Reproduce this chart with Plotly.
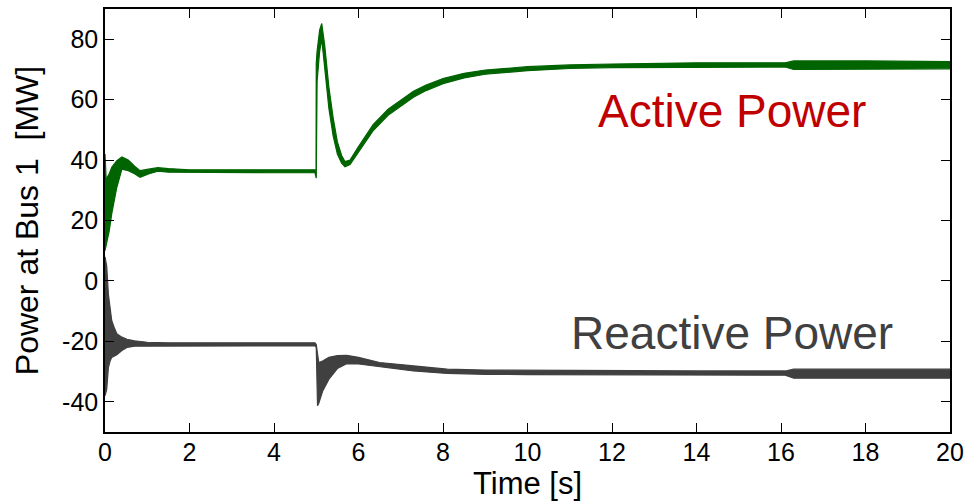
import plotly.graph_objects as go

# ---- data ----
# Active power envelope (MW)
t_active = [0, 0.03, 0.06, 0.1, 0.16, 0.22, 0.28, 0.4, 0.55, 0.7, 0.83, 1.03, 1.25, 1.5,
            2, 3, 4, 4.97, 4.995, 5.0, 5.02, 5.08, 5.13, 5.2, 5.3, 5.4, 5.5, 5.6, 5.68,
            5.8, 6.0, 6.35, 6.7, 7.0, 7.3, 7.6, 8.0, 8.5, 9.0, 10, 11, 12, 14, 16.1,
            16.3, 18, 20]
active_upper = [42, 33, 34.5, 35.5, 37.6, 38.8, 39.8, 41, 40, 38, 36.5, 37, 37.5, 37.2,
                36.8, 36.8, 36.8, 36.8, 36.5, 72, 76, 83, 85.2, 78, 64, 54, 46, 41.5, 39.5,
                40, 44.5, 51.8, 56.8, 59.8, 62.8, 64.8, 67, 68.7, 69.8, 70.9, 71.5, 71.8,
                72.2, 72.2, 72.8, 72.8, 72.6]
active_lower = [10, 11, 14, 16.6, 22.3, 27, 31, 37, 36.5, 35.5, 34.3, 35.4, 36.3, 36,
                35.8, 35.8, 35.8, 35.8, 34.5, 34, 66, 76, 80, 71, 57, 48, 42, 39, 37.8,
                38.5, 42.5, 49.8, 54.8, 57.8, 60.8, 63, 65.3, 67.2, 68.4, 69.6, 70.3, 70.6,
                70.8, 70.8, 70, 70, 70.2]

# Reactive power envelope (MVAr)
t_reactive = [0, 0.04, 0.08, 0.12, 0.16, 0.22, 0.28, 0.4, 0.52, 0.7, 0.85, 1.0, 1.5, 2,
              3, 4, 4.97, 5.0, 5.03, 5.06, 5.15, 5.3, 5.5, 5.72, 6.0, 6.5, 7.3, 8.1, 9,
              10, 12, 14, 16.1, 16.3, 18, 20]
reactive_upper = [8, 5, -4.4, -10, -13.2, -15.5, -17.5, -18.6, -19.3, -19.8, -20.1, -20.3,
                  -20.5, -20.5, -20.5, -20.5, -20.5, -21, -24, -27, -26.5, -25.3, -24.7,
                  -24.6, -25.3, -27, -28.1, -29.2, -29.5, -29.6, -29.8, -29.8, -29.8,
                  -29.2, -29.2, -29.2]
reactive_lower = [-38, -36, -28.7, -26.5, -25.3, -24.8, -24.4, -23, -22, -21.6, -21.5,
                  -21.5, -21.5, -21.5, -21.5, -21.5, -21.5, -22, -41.3, -40.5, -36.5,
                  -32.5, -29, -27.4, -27.5, -28.4, -29.8, -30.6, -30.9, -31, -31.2, -31.2,
                  -31.2, -32.2, -32.2, -32.2]

x_ticks = [0, 2, 4, 6, 8, 10, 12, 14, 16, 18, 20]
y_ticks = [-40, -20, 0, 20, 40, 60, 80]

GREEN = "#006400"
GRAY = "#404040"
RED = "#c00000"
FONT = "Liberation Sans, Arial, sans-serif"

fig = go.Figure()


def band(t, up, lo, color):
    return go.Scatter(
        x=list(t) + list(t)[::-1],
        y=list(up) + list(lo)[::-1],
        mode="lines",
        fill="toself",
        fillcolor=color,
        line=dict(color=color, width=1.2),
        hoverinfo="skip",
        showlegend=False,
    )


fig.add_trace(band(t_active, active_upper, active_lower, GREEN))
fig.add_trace(band(t_reactive, reactive_upper, reactive_lower, GRAY))

fig.add_annotation(x=14.83, y=56.3, text="Active Power", showarrow=False,
                   xanchor="center", yanchor="middle",
                   font=dict(family=FONT, size=46, color=RED))
fig.add_annotation(x=14.83, y=-17.1, text="Reactive Power", showarrow=False,
                   xanchor="center", yanchor="middle",
                   font=dict(family=FONT, size=46, color=GRAY))

axis_common = dict(
    showline=True, linecolor="black", linewidth=1.5, mirror="ticks",
    ticks="inside", ticklen=9, tickwidth=1, tickcolor="black",
    showgrid=False, zeroline=False,
    tickfont=dict(family=FONT, size=25, color="black"),
)

fig.update_xaxes(range=[0, 20], tickvals=x_ticks, ticktext=[str(v) for v in x_ticks],
                 ticklabelstandoff=-3,
                 title=dict(text="Time [s]", font=dict(family=FONT, size=31, color="black"),
                            standoff=4),
                 **axis_common)
fig.update_yaxes(range=[-50, 90], tickvals=y_ticks, ticktext=[str(v) for v in y_ticks],
                 title=dict(text="Power at Bus 1  [MW]",
                            font=dict(family=FONT, size=32, color="black"), standoff=14),
                 **axis_common)

fig.update_layout(
    width=966, height=501,
    margin=dict(l=105, r=16, t=9, b=69, autoexpand=False),
    paper_bgcolor="white", plot_bgcolor="white",
    font=dict(family=FONT),
)

fig.write_html(
    "out.html",
    config={"displayModeBar": False},
    post_script="document.body.style.margin='0';document.body.style.overflow='hidden';",
)
